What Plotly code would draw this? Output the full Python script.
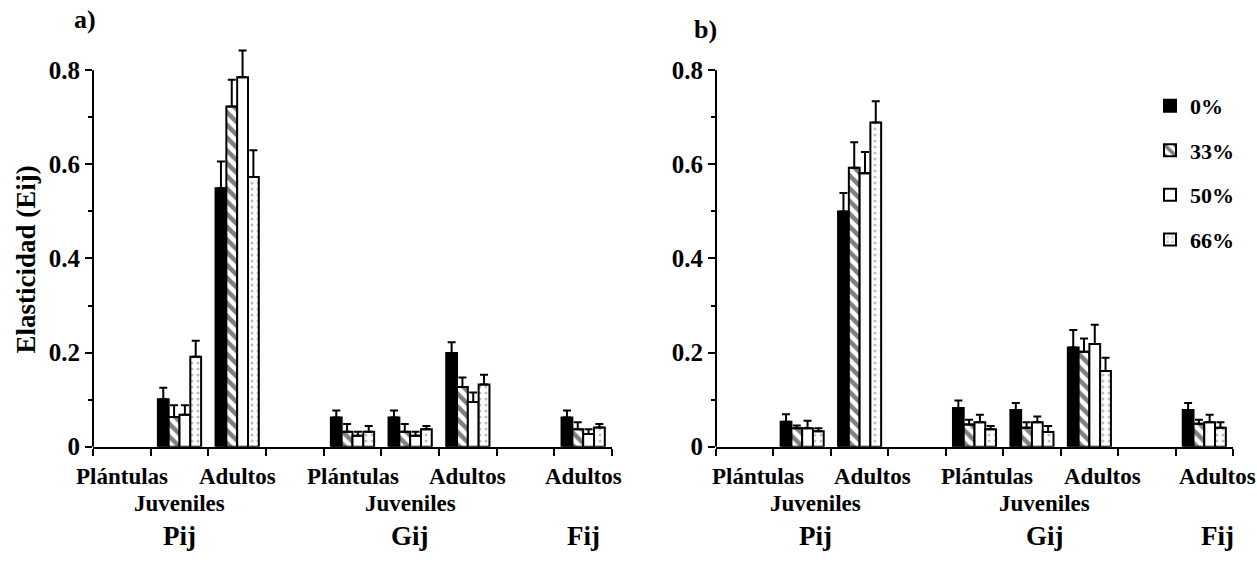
import plotly.graph_objects as go

# ---------------- data ----------------
series = ["0%", "33%", "50%", "66%"]
slots = [1, 2, 4, 5, 6, 8]          # positions of the filled categories on the axis
cat_row1 = [(0, "Plántulas"), (2, "Adultos"), (4, "Plántulas"), (6, "Adultos"), (8, "Adultos")]
cat_row2 = [(1, "Juveniles"), (5, "Juveniles")]
group_labels = [(1, "Pij"), (5, "Gij"), (8, "Fij")]

a_0 = [0.101, 0.549, 0.062, 0.062, 0.199, 0.062]
a_0e = [0.024, 0.057, 0.015, 0.015, 0.023, 0.015]
a_33 = [0.063, 0.723, 0.032, 0.032, 0.127, 0.037]
a_33e = [0.025, 0.057, 0.016, 0.016, 0.020, 0.015]
a_50 = [0.068, 0.785, 0.023, 0.023, 0.095, 0.027]
a_50e = [0.020, 0.057, 0.009, 0.009, 0.020, 0.010]
a_66 = [0.191, 0.573, 0.032, 0.037, 0.132, 0.041]
a_66e = [0.034, 0.057, 0.012, 0.007, 0.021, 0.007]

b_0 = [0.053, 0.500, 0.082, 0.078, 0.211, 0.078]
b_0e = [0.016, 0.039, 0.016, 0.015, 0.037, 0.015]
b_33 = [0.039, 0.593, 0.047, 0.040, 0.202, 0.049]
b_33e = [0.006, 0.054, 0.010, 0.012, 0.028, 0.008]
b_50 = [0.039, 0.581, 0.052, 0.052, 0.218, 0.052]
b_50e = [0.016, 0.045, 0.016, 0.012, 0.041, 0.016]
b_66 = [0.033, 0.689, 0.037, 0.031, 0.161, 0.040]
b_66e = [0.006, 0.045, 0.007, 0.013, 0.028, 0.012]

panel_a = [(a_0, a_0e), (a_33, a_33e), (a_50, a_50e), (a_66, a_66e)]
panel_b = [(b_0, b_0e), (b_33, b_33e), (b_50, b_50e), (b_66, b_66e)]

y_ticks = [0, 0.2, 0.4, 0.6, 0.8]
y_ticktext = ["0", "0.2", "0.4", "0.6", "0.8"]
y_minor = [0.1, 0.3, 0.5, 0.7]
y_axis_top = 0.8
y_view_top = 0.86

# ---------------- styles ----------------
FONT = "Liberation Serif"
W, H = 1257, 567

styles = [
    dict(color="black"),
    dict(color="white", pattern=dict(shape="\\", fgcolor="black", bgcolor="white",
                                     size=9, solidity=0.5, fillmode="overlay")),
    dict(color="white"),
    dict(color="white", pattern=dict(shape=".", fgcolor="#808080", bgcolor="white",
                                     size=6, solidity=0.2, fillmode="overlay")),
]

fig = go.Figure()

for pi, (panel, xa, ya) in enumerate([(panel_a, "x", "y"), (panel_b, "x2", "y2")]):
    for si, (vals, errs) in enumerate(panel):
        st = styles[si]
        marker = dict(color=st["color"], line=dict(color="black", width=2))
        if "pattern" in st:
            marker["pattern"] = st["pattern"]
        fig.add_trace(go.Bar(
            x=slots, y=vals, name=series[si], xaxis=xa, yaxis=ya,
            marker=marker, cliponaxis=False,
            legendgroup=series[si], showlegend=(pi == 1),
            error_y=dict(type="data", symmetric=False, array=errs,
                         arrayminus=[0] * len(errs), color="black",
                         thickness=2, width=4),
        ))

# domains in paper fractions (margins are zero)
px_per_unit = (458 - 72) / 0.8
top_px = 458 - y_view_top * px_per_unit
xa_dom = [93 / W, 612 / W]
xb_dom = [716 / W, 1233 / W]
y_dom = [1 - 458 / H, 1 - top_px / H]

xcommon = dict(range=[-0.5, 8.5], showline=True, linecolor="black", linewidth=2,
               ticks="outside", ticklen=7, tickwidth=2, tickcolor="black",
               tickvals=[i - 0.5 for i in range(10)], showticklabels=False,
               showgrid=False, zeroline=False, fixedrange=True)
ycommon = dict(range=[0, y_view_top], showline=False,
               ticks="outside", ticklen=7, tickwidth=2, tickcolor="black",
               tickvals=y_ticks, ticktext=y_ticktext,
               tickfont=dict(family=FONT, size=25, color="black", weight=700),
               minor=dict(tickvals=y_minor, ticks="outside", ticklen=4,
                          tickwidth=2, tickcolor="black"),
               showgrid=False, zeroline=False, fixedrange=True)

fig.update_layout(
    width=W, height=H,
    margin=dict(l=0, r=0, t=0, b=0),
    paper_bgcolor="white", plot_bgcolor="white",
    barmode="group", bargap=0.25, bargroupgap=0,
    font=dict(family=FONT, color="black", weight=700),
    xaxis=dict(domain=xa_dom, anchor="y", **xcommon),
    yaxis=dict(domain=y_dom, anchor="x", **ycommon),
    xaxis2=dict(domain=xb_dom, anchor="y2", **xcommon),
    yaxis2=dict(domain=y_dom, anchor="x2", **ycommon),
    legend=dict(x=1150 / W, y=1 - 87 / H, xanchor="left", yanchor="top",
                font=dict(family=FONT, size=22, color="black", weight=700),
                tracegroupgap=13, bgcolor="rgba(0,0,0,0)", itemwidth=30),
    showlegend=True,
)

# y-axis lines stop at 0.8 like the reference
shapes = []
for xr, yr in [("x domain", "y"), ("x2 domain", "y2")]:
    shapes.append(dict(type="line", xref=xr, yref=yr, x0=0, x1=0, y0=0, y1=y_axis_top,
                       line=dict(color="black", width=2)))
fig.update_layout(shapes=shapes)

anns = []
def add_text(xref, x, ypx, text, size, xshift=0):
    anns.append(dict(xref=xref, yref="paper", x=x, y=1 - ypx / H, text=text,
                     showarrow=False, xanchor="center", yanchor="middle",
                     xshift=xshift,
                     font=dict(family=FONT, size=size, color="black", weight=700)))

for xref, shift in [("x", 0), ("x2", 13)]:
    for pos, t in cat_row1:
        add_text(xref, pos, 489, t, 23, shift)
    for pos, t in cat_row2:
        add_text(xref, pos, 516, t, 23, shift)
    for pos, t in group_labels:
        add_text(xref, pos, 550, t, 27, shift)

anns.append(dict(xref="paper", yref="paper", x=85 / W, y=1 - 20 / H, text="a)",
                 showarrow=False, xanchor="center", yanchor="middle",
                 font=dict(family=FONT, size=26, color="black", weight=700)))
anns.append(dict(xref="paper", yref="paper", x=705 / W, y=1 - 30 / H, text="b)",
                 showarrow=False, xanchor="center", yanchor="middle",
                 font=dict(family=FONT, size=26, color="black", weight=700)))
anns.append(dict(xref="paper", yref="paper", x=26 / W, y=1 - 266 / H,
                 text="Elasticidad (Eij)", textangle=-90,
                 showarrow=False, xanchor="center", yanchor="middle",
                 font=dict(family=FONT, size=27, color="black", weight=700)))
fig.update_layout(annotations=anns)

fig.write_html("out.html")
